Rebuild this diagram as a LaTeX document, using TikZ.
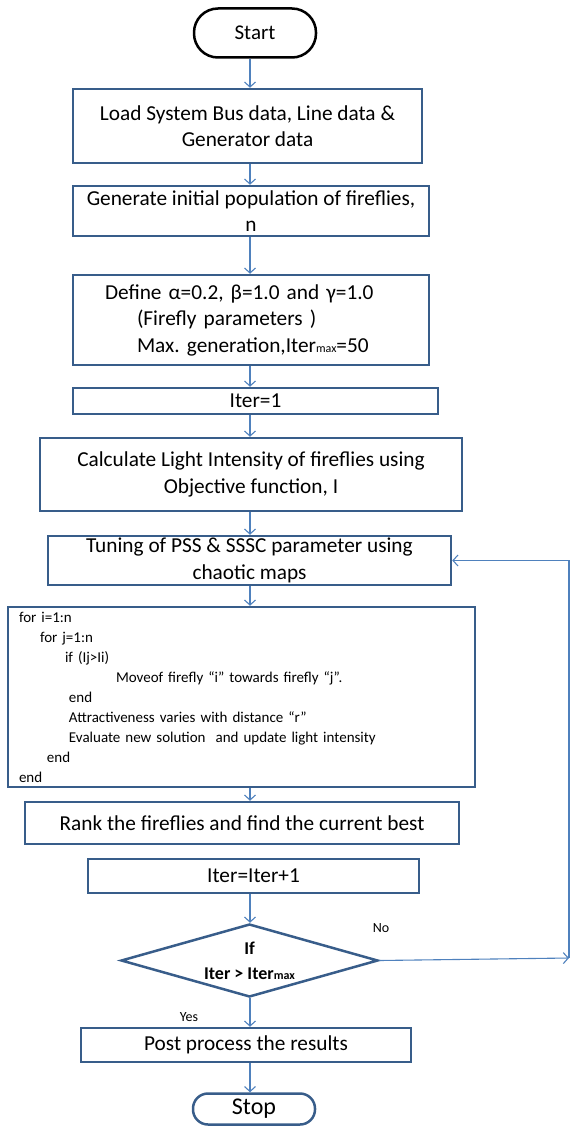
\documentclass[tikz,border=0pt]{standalone}
\usepackage{fontspec}
\setmainfont{Carlito}
\usepackage{tikz}
\usetikzlibrary{shapes.geometric, arrows.meta, positioning, calc}
\definecolor{boxcolor}{RGB}{56, 93, 138}
\definecolor{linecolor}{RGB}{79, 129, 189}
\newcommand{\smalltxt}[1]{{\fontsize{12}{12}\selectfont #1}}
\frenchspacing

\begin{document}
\begin{tikzpicture}[
    x=1pt, y=-1pt,
    process/.style={draw=boxcolor, line width=2.5pt, fill=white, inner sep=0pt, font=\fontsize{21.3}{26.5}\selectfont, align=center},
    terminal/.style={draw, line width=2.5pt, minimum width=122pt, inner sep=0pt},
    decision/.style={draw=boxcolor, line width=2.5pt, diamond, minimum width=257pt, minimum height=73pt, inner sep=0pt, aspect=3.5},
    arr/.style={draw=linecolor, line width=1.1pt, -{Straight Barb[length=5pt, width=11pt]}},
    note/.style={font=\fontsize{14}{16}\selectfont}
]
    \useasboundingbox (0,0) rectangle (570,1126);
    \coordinate (spine) at (250,0);

    % Start
    \node[terminal, rounded corners=24pt, minimum height=49pt, font=\fontsize{21}{24}\selectfont] (start) at (255,33) {Start};

    % Data and initial population
    \node[process, minimum width=349pt, minimum height=74pt] (load) at (247.5,126) {Load System Bus data, Line data \&\\Generator data};
    \node[process, minimum width=356pt, minimum height=50pt] (gen) at (251,211) {Generate initial population of fireflies,\\n};

    % Parameters
    \node[process, minimum height=90pt, text width=292pt, inner xsep=32pt, align=left] (def) at (251,320)
        {Define α=0.2, β=1.0 and γ=1.0\\
         \hspace*{32pt}(Firefly parameters )\\
         \hspace*{32pt}Max. generation,Iter\smalltxt{max}=50};
    \node[process, minimum width=365pt, minimum height=26pt] (iter1) at (255.5,401) {Iter=1};

    % Evaluation
    \node[process, minimum width=422pt, minimum height=73pt] (calc) at (251,474.5) {Calculate Light Intensity of fireflies using\\Objective function, I};
    \node[process, minimum width=403pt, minimum height=49pt] (tune) at (249.5,560.5) {Tuning of PSS \& SSSC parameter using\\chaotic maps};

    % Firefly loop
    \node[process, minimum height=180pt, text width=445pt, inner xsep=11pt, align=left, font=\fontsize{15}{20}\selectfont] (loop) at (241.5,697)
        {for i=1:n\\
         \hspace*{21pt}for j=1:n\\
         \hspace*{46pt}if (Ij>Ii)\\
         \hspace*{97pt}Moveof firefly “i” towards firefly “j”.\\
         \hspace*{50pt}end\\
         \hspace*{50pt}Attractiveness varies with distance “r”\\
         \hspace*{50pt}Evaluate new solution\ \ and update light intensity\\
         \hspace*{28pt}end\\
         end};

    % Ranking and counter
    \node[process, minimum width=434pt, minimum height=42pt] (rank) at (242,823) {Rank the fireflies and find the current best};
    \node[process, minimum width=331pt, minimum height=34pt] (iterinc) at (253.5,876) {Iter=Iter+1};

    % Stopping test
    \node[decision] (dec) at (249.5,960.5) {};
    \node[font=\bfseries\fontsize{18}{25}\selectfont, align=center] (dectext) at (dec) {If\\Iter > Iter\smalltxt{max}};
    \node[note] (no) at (381,928) {No};
    \node[note] (yes) at (189,1017) {Yes};

    % Results
    \node[process, minimum width=330pt, minimum height=34pt] (post) at (246,1045) {Post process the results};
    \node[terminal, draw=boxcolor, rounded corners=15pt, minimum height=31pt, font=\fontsize{24}{26}\selectfont] (stop) at (254,1109) {Stop};

    % Arrows
    \draw[arr] (start.south -| spine) -- (load.north -| spine);
    \draw[arr] (load.south -| spine) -- (gen.north -| spine);
    \draw[arr] (gen.south -| spine) -- (def.north -| spine);
    \draw[arr] (def.south -| spine) -- (iter1.north -| spine);
    \draw[arr] (iter1.south -| spine) -- (calc.north -| spine);
    \draw[arr] (calc.south -| spine) -- (tune.north -| spine);
    \draw[arr] (tune.south -| spine) -- (loop.north -| spine);
    \draw[arr] (loop.south -| spine) -- (rank.north -| spine);
    \draw[arr] (iterinc.south -| spine) -- (dec.north -| spine);
    \draw[arr] (dec.south -| spine) -- (post.north -| spine);
    \draw[arr] (post.south -| spine) -- (stop.north -| spine);

    % Feedback (No)
    \coordinate (fb) at (569,958);
    \draw[arr] (dec.east) -- (fb);
    \draw[arr] (fb) -- (fb |- tune.east) -- (tune.east);

\end{tikzpicture}
\end{document}
